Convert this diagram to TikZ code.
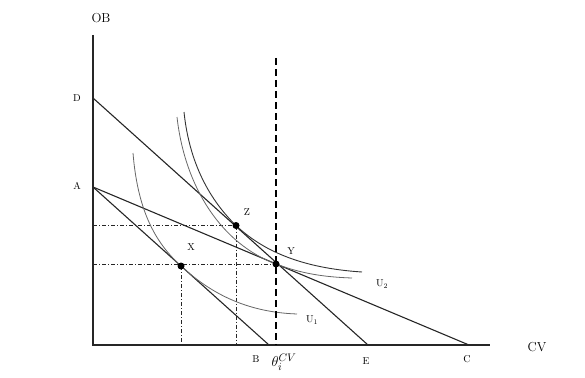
\documentclass[tikz,border=0pt]{standalone}
\begin{document}
\begin{tikzpicture}[x=1pt,y=-1pt,
  axisline/.style={line width=1.2pt,black!85},
  budget/.style={line width=1.1pt,black!85},
  ucurve/.style={line width=0.8pt,black!60},
  ucurvedark/.style={line width=0.9pt,black!80},
  guide/.style={line width=0.9pt,black!85,dash pattern=on 4pt off 2pt on 1pt off 2pt},
  cvline/.style={line width=2.2pt,black,dash pattern=on 7pt off 4pt},
  lbl/.style={font=\fontsize{10}{11}\selectfont,inner sep=0pt},
  biglbl/.style={font=\fontsize{13}{14}\selectfont,inner sep=0pt},
  pt/.style={circle,fill=black,inner sep=0pt,minimum size=7pt}]
\useasboundingbox (0,0) rectangle (585,377);
% key points
\coordinate (O) at (93,345);
\coordinate (Ytop) at (93,35);
\coordinate (Xend) at (490,345);
\coordinate (D) at (93,98);
\coordinate (A) at (93,187);
\coordinate (B) at (269,345);
\coordinate (E) at (368,345);
\coordinate (C) at (469,345);
\coordinate (Zp) at (236,225.5);
\coordinate (Yp) at (276,264);
\coordinate (Xp) at (181,266);
\coordinate (cvtop) at (276,58);
\coordinate (cvbot) at (276,345);
\coordinate (Zax) at (93,225.5);
\coordinate (Zbot) at (236,345);
\coordinate (Yax) at (93,264);
\coordinate (Xbot) at (181,345);
% guides
\draw[guide] (Zax) -- (Zp);
\draw[guide] (Zp) -- (Zbot);
\draw[guide] (Yax) -- (Yp);
\draw[guide] (Xp) -- (Xbot);
% axes
\draw[axisline] (Ytop) -- (O) -- (Xend);
% budget lines
\draw[budget] (D) -- (E);
\draw[budget] (A) -- (B);
\draw[budget] (A) -- (C);
% indifference curves
\draw[ucurve] (133,153) .. controls (138,215) and (158,245) .. (Xp)
  .. controls (205,288) and (240,312) .. (297,314);
\draw[ucurve] (177,117) .. controls (185,188) and (222,244) .. (Yp)
  .. controls (300,273) and (322,277) .. (352,278);
\draw[ucurvedark] (184,112) .. controls (190,170) and (215,205) .. (Zp)
  .. controls (262,250) and (300,268) .. (362,272);
% CV dashed line
\draw[cvline] (cvtop) -- (cvbot);
% points
\node[pt] (Z) at (Zp) {};
\node[pt] (Y) at (Yp) {};
\node[pt] (X) at (Xp) {};
% labels
\node[biglbl] (lOB) at (101,18) {OB};
\node[biglbl] (lCV) at (537,347) {CV};
\node[lbl] (lD) at (77,98) {D};
\node[lbl] (lA) at (77,186) {A};
\node[lbl] (lZ) at (247,212) {Z};
\node[lbl] (lX) at (191,247) {X};
\node[lbl] (lY) at (291,251) {Y};
\node[lbl] (lU2) at (382,284) {U\textsubscript{2}};
\node[lbl] (lU1) at (312,320) {U\textsubscript{1}};
\node[lbl] (lB) at (256,359) {B};
\node[lbl] (lE) at (366,361) {E};
\node[lbl] (lC) at (467,359) {C};
\node[inner sep=0pt,font=\fontsize{15}{16}\selectfont] (lth) at (284,362) {$\theta_i^{CV}$};
\end{tikzpicture}
\end{document}
